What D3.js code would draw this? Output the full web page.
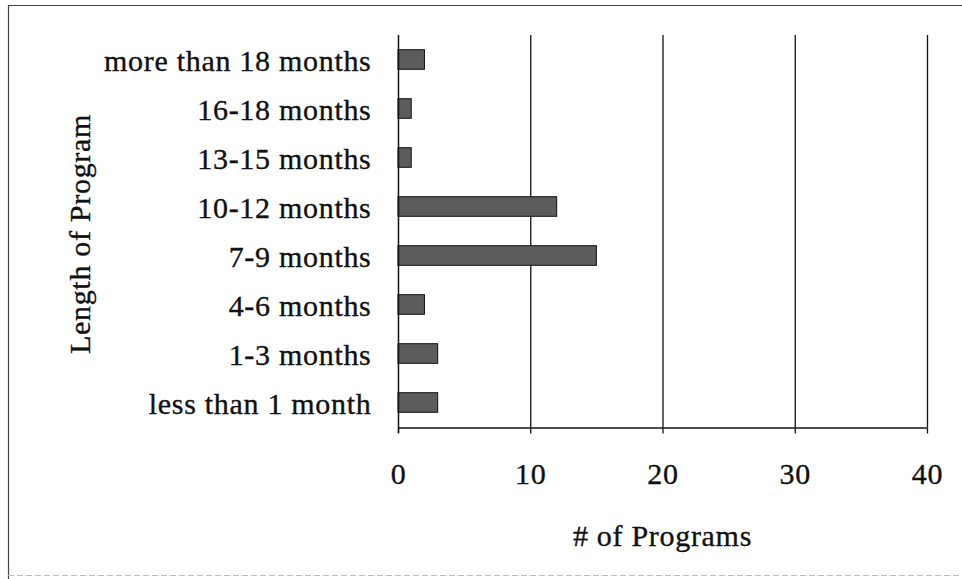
<!DOCTYPE html>
<html><head><meta charset="utf-8">
<script src="https://cdn.jsdelivr.net/npm/d3@7"></script>
<style>body{margin:0;background:#fff}svg{display:block}text{font-family:"Liberation Serif","Times New Roman",serif;fill:#111;stroke:#111;stroke-width:0.35px}</style>
</head><body><div id="c"></div>
<script>
const categories = ["more than 18 months","16-18 months","13-15 months","10-12 months","7-9 months","4-6 months","1-3 months","less than 1 month"];
const values = [2,1,1,12,15,2,3,3];
const xTicks = [0,10,20,30,40];
const xTitle = "# of Programs";
const yTitle = "Length of Program";

const W=962,H=579;
const FS=30, LS="0.7px";
const svg=d3.select("#c").append("svg").attr("width",W).attr("height",H);
// frame
svg.append("path").attr("d","M8.5,579 V5.5 H962").attr("fill","none").attr("stroke","#444").attr("stroke-width",1.2);
svg.append("line").attr("x1",8).attr("x2",962).attr("y1",575.5).attr("y2",575.5).attr("stroke","#bbb").attr("stroke-dasharray","6,3");

const m={l:398,r:927,t:35,b:427};
const x=d3.scaleLinear().domain([0,40]).range([m.l,m.r]);
const y=d3.scaleBand().domain(categories).range([m.t,m.b]).paddingInner(0.6).paddingOuter(0.3);

// gridlines
svg.append("g").selectAll("line").data(xTicks.slice(1)).join("line")
  .attr("x1",d=>x(d)+0.5).attr("x2",d=>x(d)+0.5).attr("y1",m.t).attr("y2",m.b)
  .attr("stroke","#111").attr("stroke-width",1.3);

// bars
svg.append("g").selectAll("rect").data(values).join("rect")
  .attr("x",x(0)).attr("y",(d,i)=>y(categories[i]))
  .attr("width",d=>x(d)-x(0)).attr("height",y.bandwidth())
  .attr("fill","#5c5c5c").attr("stroke","#111").attr("stroke-width",1);

// x axis
const xa=svg.append("g").attr("transform",`translate(0,${m.b+0.5})`)
  .call(d3.axisBottom(x).tickValues(xTicks).tickSize(6).tickPadding(29).tickSizeOuter(0));
xa.select(".domain").attr("stroke","#111").attr("stroke-width",1.3);
xa.selectAll(".tick line").attr("stroke","#111").attr("stroke-width",1.3);
xa.selectAll("text").attr("font-size",FS).attr("fill","#111").style("font-family","Liberation Serif, serif").style("letter-spacing",LS);

// y axis
const ya=svg.append("g").attr("transform",`translate(${m.l+0.5},0)`)
  .call(d3.axisLeft(y).tickSize(0).tickPadding(27));
ya.select(".domain").attr("stroke","#111").attr("stroke-width",1.5).attr("d",`M0,${m.t}V${m.b+6}`);
ya.selectAll("text").attr("font-size",FS).attr("fill","#111").attr("dy",null).attr("y",11.5)
  .style("font-family","Liberation Serif, serif").style("letter-spacing",LS);

svg.append("text").attr("x",x(20)).attr("y",546).attr("text-anchor","middle").attr("font-size",FS).style("letter-spacing",LS).text(xTitle);
svg.append("text").attr("transform",`translate(90,234) rotate(-90)`).attr("text-anchor","middle").attr("font-size",FS).style("letter-spacing",LS).text(yTitle);
</script></body></html>
